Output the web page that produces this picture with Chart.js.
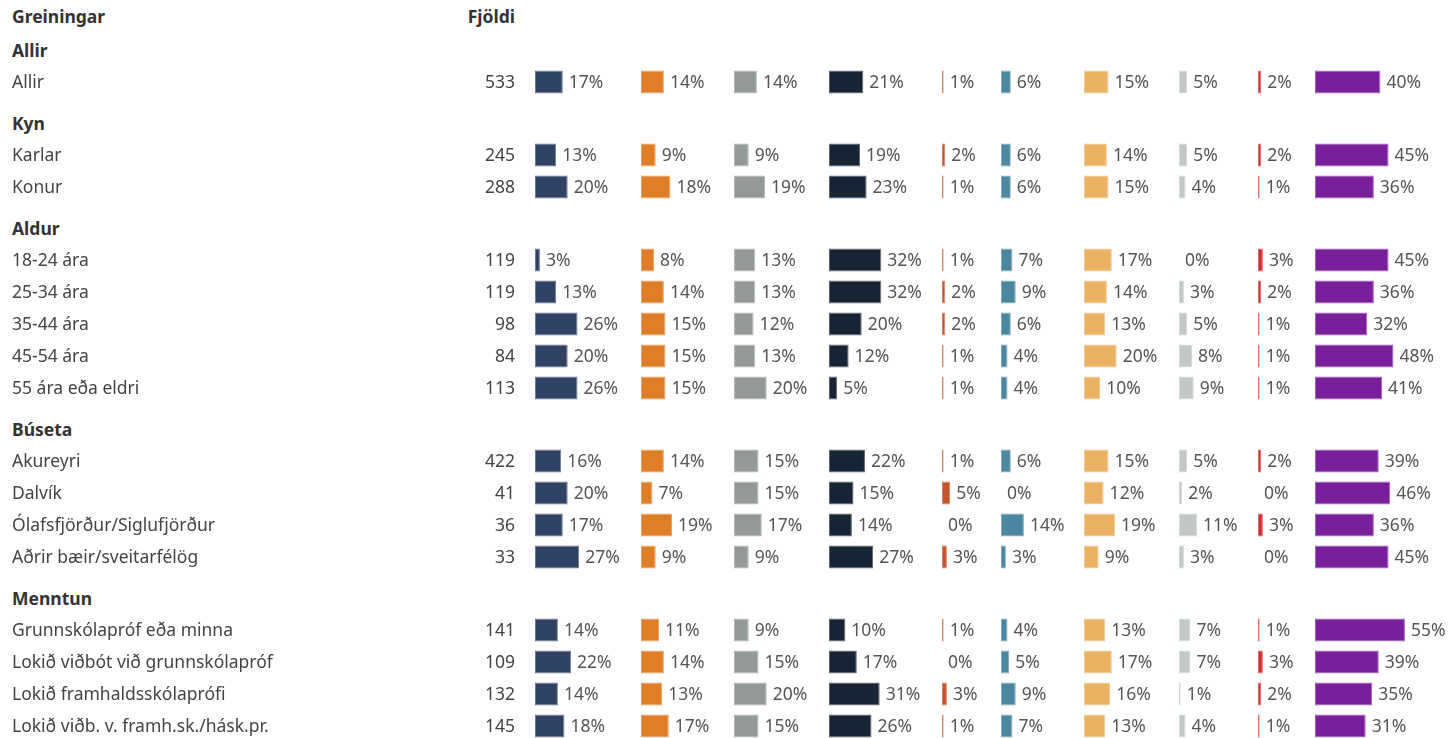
<!DOCTYPE html>
<html>
<head>
<meta charset="utf-8">
<script src="https://cdn.jsdelivr.net/npm/chart.js@4.4.1/dist/chart.umd.min.js"></script>
<style>
  html, body { margin: 0; padding: 0; background: #fff; }
  #board { position: relative; width: 1450px; height: 738px; overflow: hidden; font-family: "Noto Sans", sans-serif; }
  .hd { position: absolute; font-weight: bold; font-size: 17.5px; line-height: 20px; color: #333; white-space: nowrap; }
  #board canvas { position: absolute; left: 0; }
</style>
</head>
<body>
<div id="board">
  <div class="hd" style="left:12px; top:6px;">Greiningar</div>
  <div class="hd" style="left:415px; width:100px; text-align:right; top:6px;">Fjöldi</div>
</div>
<script>
// Breakdown groups and their rows
const groupNames = ['Allir', 'Kyn', 'Aldur', 'Búseta', 'Menntun'];
const groupSizes = [1, 2, 5, 4, 4];
const rowLabels = [
  'Allir',
  'Karlar', 'Konur',
  '18-24 ára', '25-34 ára', '35-44 ára', '45-54 ára', '55 ára eða eldri',
  'Akureyri', 'Dalvík', 'Ólafsfjörður/Siglufjörður', 'Aðrir bæir/sveitarfélög',
  'Grunnskólapróf eða minna', 'Lokið viðbót við grunnskólapróf', 'Lokið framhaldsskólaprófi', 'Lokið viðb. v. framh.sk./hásk.pr.'
];
const counts = [533, 245, 288, 119, 119, 98, 84, 113, 422, 41, 36, 33, 141, 109, 132, 145];

// Percentages per answer column (one value per row)
const c1  = [17, 13, 20,  3, 13, 26, 20, 26, 16, 20, 17, 27, 14, 22, 14, 18];
const c2  = [14,  9, 18,  8, 14, 15, 15, 15, 14,  7, 19,  9, 11, 14, 13, 17];
const c3  = [14,  9, 19, 13, 13, 12, 13, 20, 15, 15, 17,  9,  9, 15, 20, 15];
const c4  = [21, 19, 23, 32, 32, 20, 12,  5, 22, 15, 14, 27, 10, 17, 31, 26];
const c5  = [ 1,  2,  1,  1,  2,  2,  1,  1,  1,  5,  0,  3,  1,  0,  3,  1];
const c6  = [ 6,  6,  6,  7,  9,  6,  4,  4,  6,  0, 14,  3,  4,  5,  9,  7];
const c7  = [15, 14, 15, 17, 14, 13, 20, 10, 15, 12, 19,  9, 13, 17, 16, 13];
const c8  = [ 5,  5,  4,  0,  3,  5,  8,  9,  5,  2, 11,  3,  7,  7,  1,  4];
const c9  = [ 2,  2,  1,  3,  2,  1,  1,  1,  2,  0,  3,  0,  1,  3,  2,  1];
const c10 = [40, 45, 36, 45, 36, 32, 48, 41, 39, 46, 36, 45, 55, 39, 35, 31];
const columns = [c1, c2, c3, c4, c5, c6, c7, c8, c9, c10];

// Styling and layout
const colColors = ['#2f4263', '#e07d27', '#939899', '#172433', '#c4532a',
                   '#4b86a1', '#ecb264', '#c1c7c5', '#d02f2f', '#7a1f9c'];
const colWidths = [106, 93, 95, 113, 59, 83, 95, 79, 57, 135]; // px per column band
const PX_PER_PCT = 1.635;
const ROW_H = 32, HEAD_TO_ROW = 32, GROUP_GAP = 41;
const TEXT_NUDGE = 1.5; // optical centring of text against the bars
const FONT = '"Noto Sans"';
const FONT_SIZE = 17.5;

Chart.defaults.font.family = FONT;
Chart.defaults.font.size = FONT_SIZE;

function tint(hex, t) {
  const n = parseInt(hex.slice(1), 16);
  const mix = v => Math.round(v + (255 - v) * t);
  return `rgb(${mix(n >> 16)},${mix((n >> 8) & 255)},${mix(n & 255)})`;
}

// Fix a label axis to a set width and keep it from padding the plot vertically
function fixAxis(width) {
  return s => { s.width = width; s.paddingTop = 0; s.paddingBottom = 0; };
}

// Writes "NN%" just past the end of each bar
const valueLabels = {
  id: 'valueLabels',
  afterDatasetsDraw(chart) {
    const ctx = chart.ctx;
    ctx.save();
    ctx.font = `${FONT_SIZE}px ${FONT}`;
    ctx.fillStyle = '#555';
    ctx.textAlign = 'left';
    ctx.textBaseline = 'middle';
    chart.data.datasets.forEach((ds, di) => {
      chart.getDatasetMeta(di).data.forEach((bar, i) => {
        ctx.fillText(ds.data[i] + '%', bar.x + 6, bar.y + TEXT_NUDGE);
      });
    });
    ctx.restore();
  }
};

const board = document.getElementById('board');
let start = 0;
let headerY = 50;

groupNames.forEach((name, g) => {
  const n = groupSizes[g];
  const labels = rowLabels.slice(start, start + n);
  const cnt = counts.slice(start, start + n).map(String);
  const firstRow = headerY + HEAD_TO_ROW;

  const hd = document.createElement('div');
  hd.className = 'hd';
  hd.style.left = '12px';
  hd.style.top = (headerY - 10) + 'px';
  hd.textContent = name;
  board.appendChild(hd);

  const canvas = document.createElement('canvas');
  canvas.width = 1450;
  canvas.height = n * ROW_H;
  canvas.style.top = (firstRow - ROW_H / 2) + 'px';
  board.appendChild(canvas);

  const scales = {
    y: {
      type: 'category', position: 'left', weight: 2, offset: true,
      grid: { display: false, drawTicks: false }, border: { display: false },
      ticks: { crossAlign: 'far', padding: 0, color: '#444', autoSkip: false, labelOffset: TEXT_NUDGE },
      afterFit: fixAxis(400)
    },
    n: {
      type: 'category', labels: cnt, position: 'left', weight: 1, offset: true,
      grid: { display: false, drawTicks: false }, border: { display: false },
      ticks: { padding: 20, color: '#444', autoSkip: false, labelOffset: TEXT_NUDGE },
      afterFit: fixAxis(123)
    }
  };
  columns.forEach((col, k) => {
    scales['x' + k] = {
      type: 'linear', position: 'bottom', stack: 'cols', stackWeight: colWidths[k],
      min: 0, max: colWidths[k] / PX_PER_PCT, display: false
    };
  });

  const datasets = columns.map((col, k) => ({
    data: col.slice(start, start + n),
    xAxisID: 'x' + k,
    yAxisID: 'y',
    backgroundColor: colColors[k],
    borderColor: tint(colColors[k], 0.3),
    borderWidth: c => (c.raw > 0 ? 1 : 0),
    borderSkipped: false,
    inflateAmount: 0,
    barThickness: 23,
    grouped: false
  }));

  new Chart(canvas, {
    type: 'bar',
    data: { labels, datasets },
    options: {
      indexAxis: 'y',
      responsive: false,
      animation: false,
      layout: { padding: { left: 12, right: 0, top: 0, bottom: 0 } },
      plugins: { legend: { display: false }, tooltip: { enabled: false } },
      scales
    },
    plugins: [valueLabels]
  });

  start += n;
  headerY = firstRow + (n - 1) * ROW_H + GROUP_GAP;
});
</script>
</body>
</html>
